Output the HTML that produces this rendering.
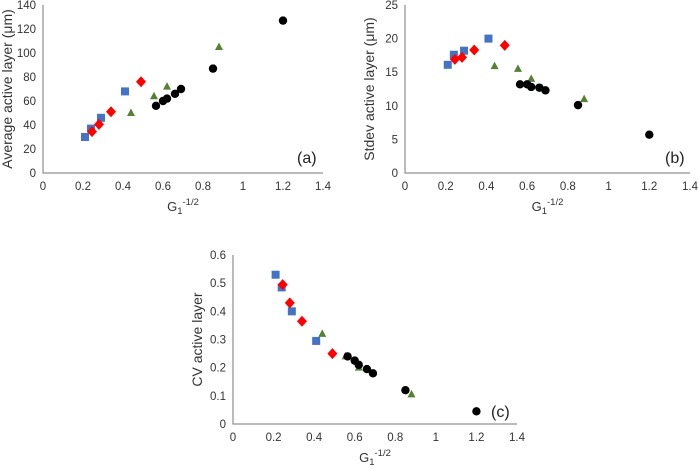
<!DOCTYPE html>
<html><head><meta charset="utf-8">
<style>
body{margin:0;background:#fff;width:698px;height:465px;overflow:hidden}
svg{font-family:"Liberation Sans",sans-serif}
</style></head><body>
<svg id="s" width="698" height="465"></svg>
<script>
const xs=[0.21,0.24,0.29,0.41];
const xr=[0.245,0.28,0.34,0.49];
const xg=[0.44,0.555,0.62,0.88];
const xk=[0.565,0.60,0.62,0.66,0.69,0.85,1.2];
const aBlue=[30,37,46,68], aRed=[34.5,40.5,51,76], aGreen=[50,64,72,105], aBlack=[56,60,62,66,70,87,127];
const bBlue=[16.1,17.6,18.2,20], bRed=[16.9,17.2,18.3,19.0], bGreen=[15.9,15.5,14.0,11.0], bBlack=[13.2,13.2,12.8,12.7,12.3,10.1,5.7];
const cBlue=[0.53,0.485,0.40,0.295], cRed=[0.495,0.43,0.365,0.25], cGreen=[0.32,0.24,0.20,0.105], cBlack=[0.24,0.225,0.21,0.195,0.18,0.12,0.045];
const xTicks=["0","0.2","0.4","0.6","0.8","1","1.2","1.4"];
const aTicks=[0,20,40,60,80,100,120,140], bTicks=[0,5,10,15,20,25], cTicks=["0","0.1","0.2","0.3","0.4","0.5","0.6"];
const NS="http://www.w3.org/2000/svg", svg=document.getElementById('s');
function el(t,a,p){const e=document.createElementNS(NS,t);for(const k in a)e.setAttribute(k,a[k]);(p||svg).appendChild(e);return e;}
function panel(cfg){
  const g=el('g',{});
  
  
  const X=v=>cfg.x0+(cfg.x1-cfg.x0)*v/1.4, Y=v=>cfg.y0-(cfg.y0-cfg.y1)*v/cfg.ymax;
  const ax=el('path',{d:`M${cfg.x0},${cfg.y1}V${cfg.y0}H${cfg.x1}`,stroke:'#777',fill:'none','stroke-width':1},g);
  
  
  xTicks.forEach((t,i)=>{const e=el('text',{x:X(i*0.2),y:cfg.y0+17,'font-size':11.5,'text-anchor':'middle',fill:'#333'},g);e.textContent=t;
    
    });
  cfg.yt.forEach((t,i)=>{const e=el('text',{x:cfg.x0-7,y:Y(i*cfg.ymax/(cfg.yt.length-1))+4,'font-size':11.5,'text-anchor':'end',fill:'#333'},g);e.textContent=t;
    
    });
  const xt=el('text',{x:(cfg.x0+cfg.x1)/2,y:cfg.y0+38,'font-size':13,'text-anchor':'middle',fill:'#333'},g);
  xt.innerHTML='G<tspan dy="3" font-size="9.5">1</tspan><tspan dy="-9" font-size="9.5">-1/2</tspan>';
  
  
  const yt=el('text',{transform:`translate(${cfg.ytx},${(cfg.y0+cfg.y1)/2}) rotate(-90)`,'font-size':14,'text-anchor':'middle',fill:'#333'},g);
  yt.textContent=cfg.ytitle;
  
  
  const lb=el('text',{x:cfg.lx,y:cfg.ly,'font-size':16,fill:'#222'},g);lb.textContent=cfg.label;
  
  
  xs.forEach((x,i)=>{const m=el('rect',{x:X(x)-4,y:Y(cfg.b[i])-4,width:8,height:8,fill:'#4472c4'},g);
    
    });
  xr.forEach((x,i)=>{const cx=X(x),cy=Y(cfg.r[i]);const m=el('path',{d:`M${cx},${cy-5.5}L${cx+5},${cy}L${cx},${cy+5.5}L${cx-5},${cy}Z`,fill:'#ff0000'},g);
    
    });
  xg.forEach((x,i)=>{const cx=X(x),cy=Y(cfg.g[i]);const m=el('path',{d:`M${cx},${cy-4.5}L${cx+4},${cy+3}L${cx-4},${cy+3}Z`,fill:'#548235'},g);
    
    });
  xk.forEach((x,i)=>{const m=el('circle',{cx:X(x),cy:Y(cfg.k[i]),r:4.2,fill:'#000'},g);
    
    });
}
panel({name:'chart-a',x0:43,x1:323,y0:173,y1:5,ymax:140,yt:aTicks,ytitle:'Average active layer (μm)',ytx:12,label:'(a)',lx:297,ly:163,b:aBlue,r:aRed,g:aGreen,k:aBlack});
panel({name:'chart-b',x0:405,x1:690,y0:173,y1:5,ymax:25,yt:bTicks,ytitle:'Stdev active layer (μm)',ytx:374,label:'(b)',lx:665,ly:163,b:bBlue,r:bRed,g:bGreen,k:bBlack});
panel({name:'chart-c',x0:233,x1:517,y0:424,y1:255,ymax:0.6,yt:cTicks,ytitle:'CV active layer',ytx:202,label:'(c)',lx:491,ly:417,b:cBlue,r:cRed,g:cGreen,k:cBlack});
</script>
</body></html>
